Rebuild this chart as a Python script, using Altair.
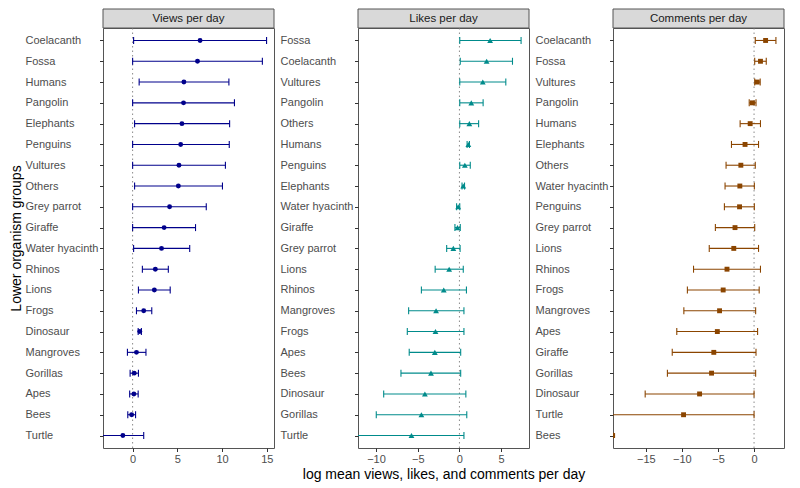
import altair as alt
import pandas as pd

# ---------------- data ----------------
views_groups = ["Coelacanth", "Fossa", "Humans", "Pangolin", "Elephants", "Penguins",
                "Vultures", "Others", "Grey parrot", "Giraffe", "Water hyacinth", "Rhinos",
                "Lions", "Frogs", "Dinosaur", "Mangroves", "Gorillas", "Apes", "Bees", "Turtle"]
views_mean = [7.54, 7.25, 5.73, 5.69, 5.51, 5.37, 5.18, 5.11, 4.13, 3.52, 3.23, 2.54,
              2.43, 1.24, 0.80, 0.43, 0.18, 0.14, -0.11, -1.09]
views_lo = [0.11, 0.0, 0.73, 0.0, 0.22, 0.0, 0.0, 0.22, 0.0, 0.0, 0.11, 1.09,
            0.65, 0.43, 0.62, -0.58, -0.28, -0.33, -0.54, -3.42]
views_hi = [14.97, 14.5, 10.76, 11.38, 10.84, 10.8, 10.37, 10.04, 8.23, 7.03, 6.38, 3.99,
            4.2, 2.14, 0.98, 1.49, 0.65, 0.62, 0.33, 1.24]

likes_groups = ["Fossa", "Coelacanth", "Vultures", "Pangolin", "Others", "Humans", "Penguins",
                "Elephants", "Water hyacinth", "Giraffe", "Grey parrot", "Lions", "Rhinos",
                "Mangroves", "Frogs", "Apes", "Bees", "Dinosaur", "Gorillas", "Turtle"]
likes_mean = [3.68, 3.26, 2.80, 1.42, 1.19, 1.07, 0.65, 0.46, -0.15, -0.23, -0.73, -1.23,
              -1.88, -2.80, -2.87, -2.95, -3.41, -4.14, -4.56, -5.75]
likes_lo = [0.04, 0.10, 0.04, 0.04, 0.04, 0.92, 0.04, 0.31, -0.34, -0.54, -1.53, -2.91,
            -4.56, -6.09, -6.25, -6.02, -7.01, -9.08, -9.97, -12.4]
likes_hi = [7.39, 6.36, 5.56, 2.84, 2.30, 1.20, 1.30, 0.61, 0.04, 0.10, 0.08, 0.46,
            0.84, 0.54, 0.54, 0.15, 0.15, 0.77, 0.88, 0.54]

comments_groups = ["Coelacanth", "Fossa", "Vultures", "Pangolin", "Humans", "Elephants", "Others",
                   "Water hyacinth", "Penguins", "Grey parrot", "Lions", "Rhinos", "Frogs",
                   "Mangroves", "Apes", "Giraffe", "Gorillas", "Dinosaur", "Turtle", "Bees"]
comments_mean = [1.60, 0.89, 0.44, -0.22, -0.54, -1.25, -1.83, -1.97, -2.01, -2.64, -2.81,
                 -3.75, -4.28, -4.78, -5.09, -5.58, -5.89, -7.55, -9.77, -19.6]
comments_lo = [0.17, 0.09, 0.09, -0.67, -1.93, -3.13, -3.88, -4.02, -4.11, -5.36, -6.21,
               -8.39, -9.24, -9.73, -10.71, -11.34, -12.01, -15.09, -19.9, -19.6]
comments_hi = [3.03, 1.69, 0.85, 0.27, 0.89, 0.62, 0.17, 0.04, 0.04, 0.09, 0.62,
               0.89, 0.71, 0.22, 0.49, 0.27, 0.22, 0.0, 0.0, -19.6]

W = 171
H = 420
FONT = "Liberation Sans"


def panel(groups, mean, lo, hi, color, shape, size, domain, ticks, strip,
          ytitle=None, xtitle=None):
    df = pd.DataFrame({"group": groups, "mean": mean, "lo": lo, "hi": hi})
    base = alt.Chart(df)
    xscale = alt.Scale(domain=domain, nice=False, zero=False)
    xaxis = alt.Axis(values=ticks, title=xtitle, grid=False, domain=False,
                     tickSize=3.5, tickColor="#333333", labelColor="#4d4d4d",
                     labelFontSize=11, labelPadding=2, titleFontSize=14,
                     titleFontWeight="normal", titleColor="#000000", titlePadding=3,
                     labelFont=FONT, titleFont=FONT)
    yaxis = alt.Axis(title=ytitle, grid=False, domain=False, labelAlign="left",
                     labelPadding=74.5, tickSize=3.5, tickColor="#333333",
                     labelColor="#4d4d4d", labelFontSize=11, labelFont=FONT,
                     titleFont=FONT, titleFontSize=14, titleFontWeight="normal",
                     titleColor="#000000", titlePadding=2, labelLimit=200)
    yenc = alt.Y("group:N", sort=groups, scale=alt.Scale(type="point", padding=0.6),
                 axis=yaxis)

    def xe(field):
        return alt.X(field, type="quantitative", scale=xscale, axis=xaxis)

    zero = alt.Chart(pd.DataFrame({"z": [0]})).mark_rule(
        color="#8a8a8a", strokeDash=[1.5, 3], strokeWidth=1
    ).encode(x=xe("z"))

    bars = base.mark_rule(color=color, strokeWidth=1.1, clip=True).encode(
        x=xe("lo"), x2="hi", y=yenc)
    cap_lo = base.mark_tick(color=color, thickness=1.1, size=7, orient="vertical",
                            clip=True, opacity=1).encode(x=xe("lo"), y=yenc)
    cap_hi = base.mark_tick(color=color, thickness=1.1, size=7, orient="vertical",
                            clip=True, opacity=1).encode(x=xe("hi"), y=yenc)
    pts = base.mark_point(filled=True, shape=shape, size=size, color=color,
                          opacity=1, clip=True).encode(x=xe("mean"), y=yenc)

    sdf = pd.DataFrame({"s": [strip]})
    srect = alt.Chart(sdf).mark_rect(fill="#d9d9d9", stroke="#555555",
                                     strokeWidth=1).encode(
        x=alt.value(0), x2=alt.value(W), y=alt.value(-19), y2=alt.value(0))
    stext = alt.Chart(sdf).mark_text(font=FONT, fontSize=11.5, color="#1a1a1a",
                                     baseline="middle", align="center").encode(
        x=alt.value(W / 2), y=alt.value(-9.5), text="s:N")

    return alt.layer(zero, bars, cap_lo, cap_hi, pts, srect, stext).properties(
        width=W, height=H)


p1 = panel(views_groups, views_mean, views_lo, views_hi, "#00008B", "circle", 24,
           [-3.31, 15.8], [0, 5, 10, 15], "Views per day",
           ytitle="Lower organism groups")
p2 = panel(likes_groups, likes_mean, likes_lo, likes_hi, "#008B8B", "triangle-up", 34,
           [-12.16, 8.34], [-10, -5, 0, 5], "Likes per day",
           xtitle="log mean views, likes, and comments per day")
p3 = panel(comments_groups, comments_mean, comments_lo, comments_hi, "#8B4500", "square", 24,
           [-19.55, 4.15], [-15, -10, -5, 0], "Comments per day")

chart = alt.hconcat(p1, p2, p3, spacing=84, bounds="flush").properties(
    padding={"left": 0, "top": 0, "right": 0, "bottom": 0}
).configure(font=FONT).configure_view(stroke="#555555", strokeWidth=1)

chart.save("out.html", embed_options={"renderer": "svg", "actions": False})
